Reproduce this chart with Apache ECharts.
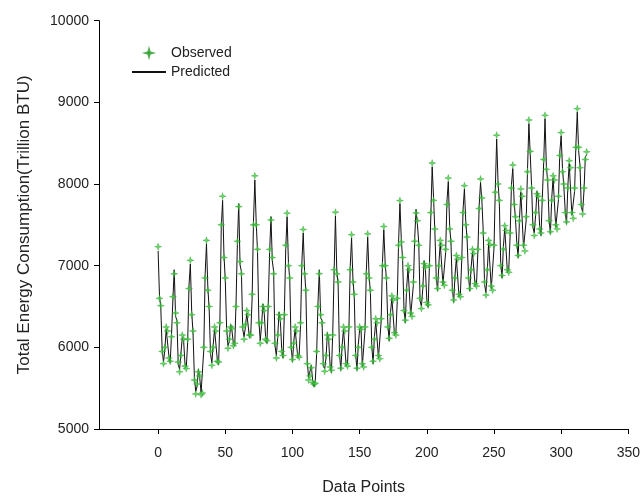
<!DOCTYPE html>
<html>
<head>
<meta charset="utf-8">
<script src="https://cdn.jsdelivr.net/npm/echarts@6/dist/echarts.min.js"></script>
<style>
  html, body { margin: 0; padding: 0; background: #fff; }
  #chart { width: 643px; height: 501px; }
</style>
</head>
<body>
<div id="chart"></div>
<script>
// observed monthly values, one row per year (last row partial)
var observed = [
  7232, 6600, 6510, 5950, 5800, 6000, 6250, 6200, 5870, 5830, 6130, 6620,
  6900, 6420, 6300, 5820, 5700, 5900, 6150, 6100, 5770, 5740, 6100, 6720,
  7065, 6400, 6200, 5600, 5430, 5550, 5700, 5650, 5420, 5440, 6000, 6850,
  7310, 6700, 6500, 5950, 5780, 6000, 6250, 6200, 5830, 5820, 6300, 7500,
  7850, 7100, 6850, 6200, 5990, 6100, 6250, 6230, 6020, 6050, 6500, 7300,
  7723, 7050, 6900, 6250, 6100, 6280, 6450, 6400, 6150, 6150, 6650, 7500,
  8100, 7500, 7200, 6300, 6050, 6300, 6500, 6450, 6100, 6080, 6500, 7200,
  7560, 7100, 6900, 6050, 5870, 6150, 6400, 6350, 5950, 5900, 6400, 7250,
  7643, 7000, 6850, 6000, 5850, 6050, 6250, 6200, 5900, 5880, 6300, 7000,
  7443, 6900, 6700, 5800, 5600, 5650, 5750, 5570, 5550, 5560, 5950, 6500,
  6902, 6400, 6300, 5800, 5707, 5900, 6150, 6100, 5760, 5720, 6150, 6950,
  7655, 6900, 6800, 5900, 5745, 6000, 6250, 6200, 5800, 5770, 6250, 6950,
  7380, 6800, 6650, 5900, 5745, 6000, 6250, 6220, 5800, 5760, 6250, 6900,
  7390, 6850, 6700, 6000, 5830, 6100, 6350, 6300, 5900, 5860, 6350, 7000,
  7480, 7000, 6850, 6250, 6110, 6400, 6630, 6580, 6180, 6150, 6600, 7250,
  7797, 7290, 7100, 6450, 6333, 6700, 7000, 6950, 6420, 6380, 6800, 7300,
  7646, 7550, 7250, 6600, 6475, 6750, 7025, 6980, 6550, 6520, 7000, 7650,
  8256, 7800, 7450, 6850, 6720, 7000, 7310, 7250, 6800, 6760, 7200, 7750,
  8073, 7450, 7300, 6700, 6580, 6850, 7125, 7080, 6650, 6620, 7100, 7650,
  7980, 7500, 7350, 6850, 6720, 6950, 7200, 7150, 6780, 6750, 7200, 7700,
  8061, 7830, 7400, 6800, 6640, 6950, 7310, 7260, 6750, 6700, 7250, 7900,
  8598, 8000, 7800, 7000, 6880, 7200, 7490, 7430, 6950, 6920, 7400, 7950,
  8232, 7750, 7600, 7250, 7125, 7550, 7940, 7850, 7250, 7180, 7600, 8150,
  8784, 8400, 7950, 7500, 7370, 7650, 7880, 7850, 7450, 7400, 7800, 8300,
  8841, 8180, 8050, 7550, 7415, 7800, 8100, 8050, 7500, 7450, 7850, 8350,
  8630, 8150, 8000, 7650, 7536, 7950, 8285, 8200, 7650, 7580, 7950, 8450,
  8923, 8450, 8200, 7750, 7634, 7950, 8300, 8394
];

// model output
var predicted = [
  7180, 6640, 6480, 5980, 5820, 5970, 6220, 6230, 5900, 5810, 6160, 6580,
  6950, 6380, 6330, 5790, 5730, 5930, 6120, 6080, 5800, 5760, 6060, 6760,
  7020, 6440, 6170, 5640, 5460, 5520, 5730, 5620, 5450, 5470, 5970, 6890,
  7270, 6740, 6470, 5920, 5810, 6030, 6220, 6230, 5860, 5790, 6340, 7460,
  7800, 7140, 6820, 6230, 6020, 6070, 6280, 6200, 6050, 6020, 6540, 7260,
  7760, 7010, 6930, 6220, 6130, 6250, 6420, 6430, 6120, 6180, 6610, 7540,
  8050, 7540, 7170, 6330, 6080, 6270, 6530, 6420, 6130, 6050, 6540, 7160,
  7600, 7060, 6930, 6020, 5900, 6120, 6430, 6320, 5980, 5870, 6440, 7210,
  7600, 7040, 6820, 6030, 5820, 6080, 6220, 6230, 5870, 5910, 6270, 7040,
  7400, 6940, 6670, 5830, 5630, 5620, 5780, 5600, 5520, 5590, 5920, 6540,
  6950, 6360, 6330, 5770, 5740, 5870, 6180, 6070, 5790, 5690, 6190, 6910,
  7610, 6940, 6770, 5930, 5720, 6030, 6220, 6230, 5770, 5800, 6210, 6990,
  7340, 6840, 6620, 5930, 5720, 6030, 6220, 6250, 5770, 5790, 6210, 6940,
  7350, 6890, 6670, 6030, 5800, 6130, 6320, 6330, 5870, 5890, 6310, 7040,
  7440, 7040, 6820, 6280, 6080, 6430, 6600, 6610, 6150, 6180, 6560, 7290,
  7760, 7330, 7070, 6480, 6300, 6730, 6970, 6980, 6390, 6410, 6760, 7340,
  7690, 7510, 7280, 6570, 6500, 6720, 7060, 6950, 6580, 6490, 7040, 7610,
  8210, 7840, 7420, 6880, 6690, 7030, 7280, 7280, 6770, 6790, 7160, 7790,
  8030, 7490, 7270, 6730, 6550, 6880, 7090, 7110, 6620, 6650, 7060, 7690,
  7940, 7540, 7320, 6880, 6690, 6980, 7170, 7180, 6750, 6780, 7160, 7740,
  8020, 7790, 7430, 6770, 6670, 6920, 7280, 7290, 6720, 6730, 7210, 7940,
  8550, 8040, 7770, 7030, 6850, 7230, 7460, 7460, 6920, 6950, 7360, 7990,
  8190, 7790, 7570, 7280, 7100, 7580, 7900, 7880, 7220, 7210, 7560, 8190,
  8740, 8360, 7980, 7470, 7400, 7620, 7910, 7820, 7480, 7370, 7840, 8260,
  8800, 8220, 8020, 7580, 7390, 7830, 8070, 8080, 7470, 7480, 7810, 8390,
  8590, 8190, 7970, 7680, 7510, 7980, 8250, 8230, 7620, 7610, 7910, 8490,
  8880, 8410, 8230, 7720, 7660, 7920, 8330, 8360
];

var xTicks = [0, 50, 100, 150, 200, 250, 300, 350];
var yTicks = [5000, 6000, 7000, 8000, 9000, 10000];

var font = "'Liberation Sans', Arial, sans-serif";
var star = 'path://M0,-10 L2.2,-2.2 L10,0 L2.2,2.2 L0,10 L-2.2,2.2 L-10,0 L-2.2,-2.2 Z';

var obsData = observed.map(function (v, i) { return [i, v]; });
var predData = predicted.map(function (v, i) { return [i, v]; });

var myChart = echarts.init(document.getElementById('chart'));
var option = {
  backgroundColor: '#fff',
  animation: false,
  legend: {
    orient: 'vertical',
    left: 126, top: 41,
    itemWidth: 34, itemHeight: 7, itemGap: 5,
    textStyle: {fontFamily: font, fontSize: 14, color: '#222'},
    data: [
      {name: 'Observed', icon: star},
      {name: 'Predicted', itemStyle: {opacity: 0}}
    ]
  },
  grid: {left: 99, right: 8, top: 20.7, bottom: 70},
  xAxis: {
    type: 'value', min: -44, max: 350,
    name: 'Data Points', nameLocation: 'middle', nameGap: 51,
    nameTextStyle: {fontFamily: font, fontSize: 16, color: '#222'},
    axisLine: {show: true, onZero: false, lineStyle: {color: '#000', width: 1}},
    axisTick: {show: true, length: 5, customValues: xTicks, lineStyle: {color: '#000'}},
    axisLabel: {customValues: xTicks, margin: 17, fontFamily: font, fontSize: 14, color: '#222'},
    splitLine: {show: false}
  },
  yAxis: {
    type: 'value', min: 5000, max: 10000, interval: 1000,
    name: 'Total Energy Consumption(Trillion BTU)', nameLocation: 'middle', nameGap: 66,
    nameTextStyle: {fontFamily: font, fontSize: 17, color: '#222'},
    axisLine: {show: true, onZero: false, lineStyle: {color: '#000', width: 1}},
    axisTick: {show: true, length: 5, customValues: yTicks, lineStyle: {color: '#000'}},
    axisLabel: {
      customValues: yTicks, margin: 10, fontFamily: font, fontSize: 14, color: '#222',
      formatter: function (v) { return String(v); }
    },
    splitLine: {show: false}
  },
  series: [
    {
      name: 'Predicted', type: 'line', data: predData,
      symbol: 'none', z: 2,
      lineStyle: {color: '#111', width: 1},
      itemStyle: {color: '#111'}
    },
    {
      name: 'Observed', type: 'scatter', data: obsData,
      symbol: star, symbolSize: 7, z: 3,
      itemStyle: {color: '#3fd13f', borderColor: '#2a9a2a', borderWidth: 0.5}
    }
  ]
};
myChart.setOption(option);

window.addEventListener('resize', function () {
  myChart.resize();
});
</script>
</body>
</html>
